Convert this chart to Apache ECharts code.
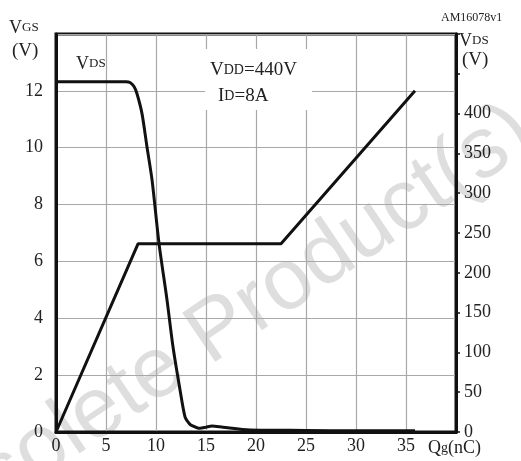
<!DOCTYPE html>
<html>
<head>
<meta charset="utf-8">
<script src="https://cdn.jsdelivr.net/npm/echarts@6/dist/echarts.min.js"></script>
<style>
  html, body { margin: 0; padding: 0; background: #fff; }
  #chart { width: 521px; height: 461px; }
</style>
</head>
<body>
<div id="chart"></div>
<script>
// Gate charge characteristic: VGS (left axis) and VDS (right axis) vs Qg
const qgTicks = [0, 5, 10, 15, 20, 25, 30, 35];
const vgsTicks = [0, 2, 4, 6, 8, 10, 12];
const vdsTicks = [0, 50, 100, 150, 200, 250, 300, 350, 400];

// VGS curve (V) against gate charge (nC)
const qgVgs = [0, 8.2, 22.5, 35.9];
const vgs = [0, 6.62, 6.62, 12.0];

// VDS curve (V) against gate charge (nC)
const qgVds = [0, 7.0, 7.4, 7.8, 8.1, 8.6, 9.1, 9.6, 10.3, 11.1, 11.7, 12.4, 12.9, 13.3, 13.6, 14.4, 15.0, 15.6, 16.7, 19.4, 25, 30, 35.9];
const vds = [440, 440, 439, 434, 425, 400, 358, 317, 237, 166, 107, 53, 19, 11, 8, 4.6, 6, 7.5, 5.9, 2.5, 2, 1.5, 1.5];

const serif = '"Liberation Serif", "DejaVu Serif", serif';
const ink = '#111';

// big letter followed by small capitals sharing the baseline
function capRich(big, small, lift) {
  return {
    a: { font: big + 'px ' + serif, fill: '#222', verticalAlign: 'bottom', lineHeight: big },
    b: { font: small + 'px ' + serif, fill: '#222', verticalAlign: 'bottom', lineHeight: small + 1,
         padding: [0, 0, lift, 0] }
  };
}

const chart = echarts.init(document.getElementById('chart'), null, { renderer: 'canvas' });

chart.setOption({
  animation: false,
  grid: {
    left: 56, top: 34, right: 65, bottom: 29,
    show: true, borderColor: ink, borderWidth: 3, backgroundColor: 'transparent'
  },
  xAxis: {
    type: 'value', min: 0, max: 40, interval: 5,
    axisLine: { show: true, lineStyle: { color: ink, width: 3 } },
    axisTick: { show: false },
    splitLine: { show: true, lineStyle: { color: '#a8a8a8', width: 1.2 } },
    axisLabel: {
      fontFamily: serif, fontSize: 18, color: '#222', margin: 5,
      formatter: v => qgTicks.includes(v) ? String(v) : ''
    }
  },
  yAxis: [
    {
      type: 'value', min: 0, max: 14, interval: 2, position: 'left',
      axisLine: { show: true, lineStyle: { color: ink, width: 3 } },
      axisTick: { show: false },
      splitLine: { show: true, lineStyle: { color: '#a8a8a8', width: 1.2 } },
      axisLabel: {
        fontFamily: serif, fontSize: 18, color: '#222', margin: 13,
        formatter: v => vgsTicks.includes(v) ? String(v) : ''
      }
    },
    {
      type: 'value', min: 0, max: 500, interval: 50, position: 'right',
      axisLine: { show: true, lineStyle: { color: ink, width: 3 } },
      axisTick: { show: true, inside: false, length: 4, lineStyle: { color: ink, width: 1.5 } },
      splitLine: { show: false },
      axisLabel: {
        fontFamily: serif, fontSize: 18, color: '#222', margin: 8,
        formatter: v => vdsTicks.includes(v) ? String(v) : ''
      }
    }
  ],
  series: [
    {
      name: 'VGS', type: 'line', yAxisIndex: 0, showSymbol: false, z: 5,
      data: qgVgs.map((q, i) => [q, vgs[i]]),
      lineStyle: { color: ink, width: 3 }
    },
    {
      name: 'VDS', type: 'line', yAxisIndex: 1, showSymbol: false, z: 5,
      smooth: 0.25,
      data: qgVds.map((q, i) => [q, vds[i]]),
      lineStyle: { color: ink, width: 3 }
    }
  ],
  graphic: [
    // faint diagonal watermark behind the plot
    {
      type: 'text', z: -10, zlevel: 0, silent: true,
      x: 208, y: 338, rotation: 34 * Math.PI / 180,
      style: {
        text: 'Obsolete Product(s)',
        font: '86px "Liberation Sans", Arial, sans-serif',
        fill: 'rgba(200,200,200,0.6)',
        align: 'center', verticalAlign: 'middle'
      }
    },
    // condition box
    {
      type: 'rect', z: 1, silent: true,
      shape: { x: 205, y: 49, width: 107, height: 61 },
      style: { fill: '#fff' }
    },
    {
      type: 'text', z: 6, x: 210, y: 61,
      style: { text: '{a|V}{b|DD}{a|=440V}', rich: capRich(19, 14, 3) }
    },
    {
      type: 'text', z: 6, x: 218, y: 87,
      style: { text: '{a|I}{b|D}{a|=8A}', rich: capRich(19, 14, 3) }
    },
    // curve tag
    {
      type: 'text', z: 6, x: 76, y: 55,
      style: { text: '{a|V}{b|DS}', rich: capRich(18, 13, 3) }
    },
    // left axis title
    {
      type: 'text', z: 6, x: 9, y: 19,
      style: { text: '{a|V}{b|GS}', rich: capRich(18, 13, 3) }
    },
    {
      type: 'text', z: 6, x: 12, y: 42,
      style: { text: '(V)', font: '19px ' + serif, fill: '#222' }
    },
    // right axis title
    {
      type: 'text', z: 6, x: 459, y: 32,
      style: { text: '{a|V}{b|DS}', rich: capRich(18, 13, 3) }
    },
    {
      type: 'text', z: 6, x: 462, y: 51,
      style: { text: '(V)', font: '19px ' + serif, fill: '#222' }
    },
    // x axis title
    {
      type: 'text', z: 6, x: 428, y: 437,
      style: {
        text: '{a|Q}{b|g}{a|(nC)}',
        rich: {
          a: { font: '18px ' + serif, fill: '#222', verticalAlign: 'bottom', lineHeight: 20 },
          b: { font: '14px ' + serif, fill: '#222', verticalAlign: 'bottom', lineHeight: 20,
               padding: [0, 0, 2, 0] }
        }
      }
    },
    // figure code
    {
      type: 'text', z: 6, x: 441, y: 12,
      style: { text: 'AM16078v1', font: '12px ' + serif, fill: '#222' }
    }
  ]
});
</script>
</body>
</html>
